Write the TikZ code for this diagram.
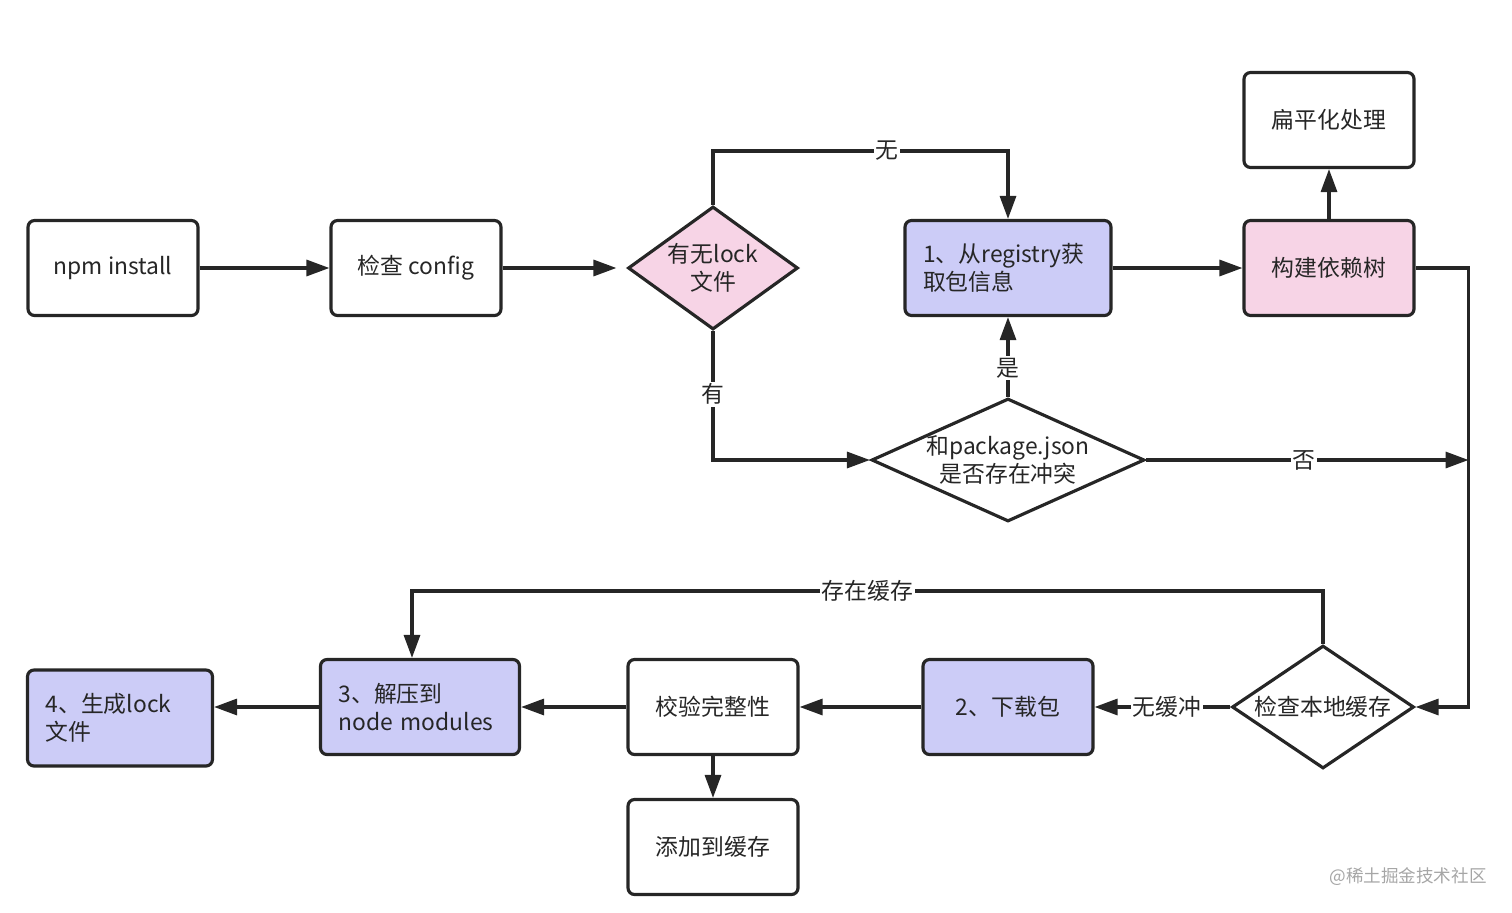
\documentclass[tikz,border=0pt]{standalone}
\usepackage{fontspec}
\setmainfont{Noto Sans CJK SC}
\usetikzlibrary{shapes.geometric,arrows.meta,calc}

\definecolor{lineclr}{HTML}{262626}
\definecolor{blueclr}{HTML}{CCCCF7}
\definecolor{pinkclr}{HTML}{F7D4E6}

\begin{document}
\begin{tikzpicture}[x=0.02cm,y=-0.02cm,
	every node/.style={font=\fontsize{13pt}{16pt}\selectfont, text=lineclr},
	stepbox/.style={draw=lineclr, line width=1.8pt, rounded corners=0.13cm, minimum width=3.4cm, minimum height=1.9cm, inner xsep=0.36cm},
	askbox/.style={diamond, draw=lineclr, line width=1.8pt, minimum height=2.46cm, inner sep=0pt},
	arr/.style={draw=lineclr, line width=1.8pt, -{Triangle[length=0.46cm,width=0.32cm]}},
	lbl/.style={fill=white, inner sep=1pt}]
	\useasboundingbox (0,0) rectangle (1512,913);
	\node[stepbox] (npm) at (113,268) {npm install};
	\node[stepbox] (cfg) at (416,268) {检查 config};
	\node[askbox, minimum width=3.4cm, fill=pinkclr, label={[align=center]center:有无lock\\文件}] (lockq) at (713,268) {};
	\node[stepbox, fill=blueclr, minimum width=4.12cm, text width=3.4cm, align=left] (reg) at (1008,268) {1、从registry获\\取包信息};
	\node[stepbox, fill=pinkclr] (tree) at (1329,268) {构建依赖树};
	\node[stepbox] (flat) at (1329,120) {扁平化处理};
	\node[askbox, minimum width=5.46cm, label={[align=center]center:和package.json\\是否存在冲突}] (conf) at (1008,460) {};
	\node[askbox, minimum width=3.64cm, label={center:检查本地缓存}] (cache) at (1323,707) {};
	\node[stepbox, fill=blueclr] (down) at (1008,707) {2、下载包};
	\node[stepbox] (check) at (713,707) {校验完整性};
	\node[stepbox] (addc) at (713,847) {添加到缓存};
	\node[stepbox, fill=blueclr, minimum width=3.98cm, text width=3.26cm, align=left] (unzip) at (420,707) {3、解压到\\node modules};
	\node[stepbox, fill=blueclr, minimum width=3.7cm, minimum height=1.92cm, text width=2.98cm, align=left] (gen) at (120,718) {4、生成lock\\文件};
	\node[text=gray!70, font=\fontsize{10pt}{12pt}\selectfont] (mark) at (1408,877) {@稀土掘金技术社区};
	\draw[arr] (npm) -- (cfg);
	\draw[arr, shorten >=0.2cm] (cfg) -- (lockq);
	\draw[arr] (lockq.north) -- ++(0,-54) -| node[lbl, pos=0.295] {无} (reg.north);
	\draw[arr] (lockq.south) |- node[lbl, pos=0.245] {有} (conf.west);
	\draw[arr] (conf.north) -- node[lbl, pos=0.36] {是} (reg.south);
	\draw[arr] (reg) -- (tree);
	\draw[arr] (tree) -- (flat);
	\draw[arr] (tree.east) -- ++(53,0) coordinate (bend) |- (cache.east);
	\draw[arr] (conf.east) -- node[lbl, pos=0.49] {否} (conf.east -| bend);
	\draw[arr] (cache.west) -- node[lbl, pos=0.47] {无缓冲} (down.east);
	\draw[arr] (cache.north) -- ++(0,-53) -| node[lbl, pos=0.25] {存在缓存} ($(unzip.north)+(-8,0)$);
	\draw[arr] (down) -- (check);
	\draw[arr] (check) -- (unzip);
	\draw[arr] (check) -- (addc);
	\draw[arr] (unzip.west) -- (unzip.west -| gen.east);
\end{tikzpicture}
\end{document}
